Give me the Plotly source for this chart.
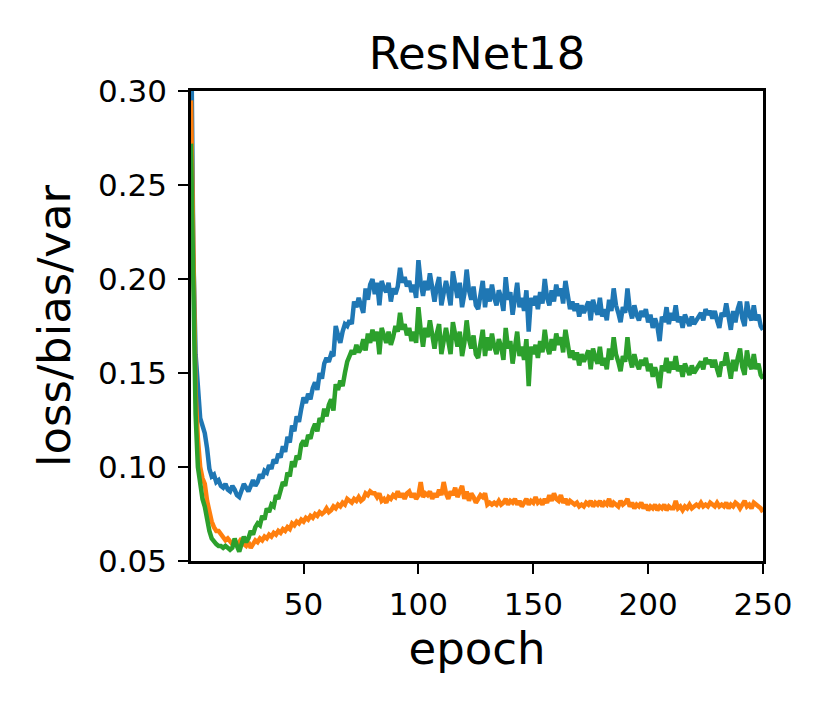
import plotly.graph_objs as go

# epochs 1..250
epochs = list(range(1, 251))

# total loss per epoch
loss = [
    0.345, 0.215, 0.160, 0.138, 0.126, 0.122, 0.118, 0.110, 0.099, 0.095,
    0.096, 0.092, 0.093, 0.090, 0.089, 0.091, 0.088, 0.087, 0.090, 0.088,
    0.085, 0.084, 0.088, 0.091, 0.089, 0.087, 0.090, 0.093, 0.090, 0.092,
    0.096, 0.094, 0.098, 0.097, 0.101, 0.099, 0.104, 0.102, 0.107, 0.105,
    0.111, 0.108, 0.116, 0.113, 0.122, 0.119, 0.127, 0.124, 0.131, 0.137,
    0.134, 0.139, 0.136, 0.142, 0.145, 0.141, 0.150, 0.147, 0.155, 0.158,
    0.156, 0.160, 0.159, 0.175, 0.170, 0.166, 0.172, 0.176, 0.175, 0.178,
    0.176, 0.188, 0.185, 0.190, 0.186, 0.182, 0.195, 0.189, 0.197, 0.200,
    0.192, 0.198, 0.186, 0.199, 0.195, 0.193, 0.198, 0.188, 0.195, 0.192,
    0.196, 0.206, 0.198, 0.201, 0.196, 0.199, 0.193, 0.197, 0.190, 0.210,
    0.198, 0.191, 0.199, 0.194, 0.203, 0.197, 0.188, 0.196, 0.201, 0.186,
    0.193, 0.199, 0.193, 0.186, 0.204, 0.196, 0.190, 0.198, 0.185, 0.192,
    0.205, 0.194, 0.189, 0.196, 0.186, 0.184, 0.193, 0.199, 0.185, 0.195,
    0.188, 0.197, 0.190, 0.186, 0.194, 0.190, 0.183, 0.201, 0.189, 0.193,
    0.181, 0.192, 0.198, 0.185, 0.190, 0.183, 0.194, 0.172, 0.190, 0.186,
    0.191, 0.184, 0.193, 0.187, 0.200, 0.190, 0.186, 0.194, 0.188, 0.197,
    0.191, 0.195, 0.187, 0.199, 0.191, 0.184, 0.188, 0.183, 0.187, 0.180,
    0.186, 0.182, 0.185, 0.188, 0.178, 0.189, 0.184, 0.181, 0.190, 0.180,
    0.184, 0.178, 0.189, 0.183, 0.195, 0.186, 0.182, 0.177, 0.185, 0.182,
    0.195, 0.184, 0.179, 0.186, 0.181, 0.178, 0.183, 0.180, 0.184, 0.177,
    0.181, 0.174, 0.179, 0.175, 0.167, 0.180, 0.177, 0.185, 0.176, 0.182,
    0.178, 0.186, 0.177, 0.180, 0.174, 0.181, 0.178, 0.175, 0.180, 0.176,
    0.178, 0.180, 0.182, 0.178, 0.184, 0.181, 0.183, 0.179, 0.183, 0.178,
    0.174, 0.182, 0.180, 0.187, 0.181, 0.173, 0.183, 0.177, 0.184, 0.188,
    0.179, 0.175, 0.188, 0.181, 0.178, 0.186, 0.178, 0.181, 0.175, 0.173,
]

# bias term
bias = [
    0.295, 0.200, 0.140, 0.115, 0.100, 0.094, 0.091, 0.082, 0.076, 0.071,
    0.068, 0.066, 0.066, 0.064, 0.063, 0.061, 0.062, 0.060, 0.059, 0.061,
    0.058, 0.060, 0.062, 0.059, 0.058, 0.060, 0.057, 0.059, 0.061, 0.060,
    0.062, 0.061, 0.063, 0.062, 0.064, 0.063, 0.065, 0.064, 0.066, 0.065,
    0.067, 0.066, 0.068, 0.067, 0.070, 0.069, 0.071, 0.070, 0.072, 0.071,
    0.073, 0.072, 0.074, 0.073, 0.075, 0.074, 0.076, 0.075, 0.076, 0.078,
    0.076, 0.077, 0.079, 0.078, 0.080, 0.079, 0.081, 0.080, 0.083, 0.082,
    0.081, 0.083, 0.082, 0.084, 0.082, 0.083, 0.086, 0.085, 0.087, 0.086,
    0.086, 0.084, 0.086, 0.082, 0.083, 0.081, 0.084, 0.083, 0.085, 0.084,
    0.087, 0.084, 0.086, 0.083, 0.086, 0.087, 0.084, 0.086, 0.083, 0.085,
    0.092, 0.084, 0.086, 0.085, 0.087, 0.083, 0.086, 0.084, 0.088, 0.085,
    0.092, 0.086, 0.083, 0.087, 0.085, 0.089, 0.084, 0.087, 0.090, 0.083,
    0.087, 0.082, 0.086, 0.084, 0.081, 0.083, 0.085, 0.084, 0.086, 0.080,
    0.081, 0.080, 0.081, 0.080, 0.082, 0.080, 0.081, 0.083, 0.080, 0.082,
    0.081, 0.083, 0.080, 0.082, 0.079, 0.081, 0.083, 0.080, 0.082, 0.081,
    0.084, 0.081, 0.082, 0.080, 0.083, 0.081, 0.085, 0.082, 0.086, 0.083,
    0.082, 0.085, 0.081, 0.083, 0.080, 0.082, 0.081, 0.080, 0.081, 0.079,
    0.080, 0.079, 0.081, 0.080, 0.082, 0.079, 0.081, 0.080, 0.082, 0.079,
    0.081, 0.080, 0.083, 0.079, 0.081, 0.080, 0.079, 0.082, 0.080, 0.081,
    0.083, 0.079, 0.081, 0.078, 0.080, 0.079, 0.081, 0.078, 0.080, 0.077,
    0.079, 0.078, 0.080, 0.077, 0.079, 0.078, 0.080, 0.077, 0.079, 0.078,
    0.078, 0.082, 0.078, 0.079, 0.077, 0.079, 0.078, 0.080, 0.078, 0.079,
    0.080, 0.079, 0.081, 0.079, 0.080, 0.079, 0.081, 0.080, 0.079, 0.081,
    0.079, 0.080, 0.079, 0.081, 0.078, 0.080, 0.079, 0.081, 0.080, 0.078,
    0.080, 0.082, 0.079, 0.080, 0.078, 0.081, 0.080, 0.079, 0.078, 0.076,
]

# variance term
var = [
    0.272, 0.185, 0.128, 0.100, 0.090, 0.083, 0.079, 0.072, 0.066, 0.062,
    0.060, 0.059, 0.058, 0.058, 0.057, 0.058, 0.057, 0.056, 0.057, 0.062,
    0.058, 0.055, 0.059, 0.063, 0.060, 0.062, 0.066, 0.064, 0.068, 0.070,
    0.069, 0.074, 0.072, 0.078, 0.076, 0.080, 0.079, 0.085, 0.083, 0.088,
    0.092, 0.090, 0.097, 0.095, 0.103, 0.100, 0.106, 0.104, 0.112, 0.114,
    0.111, 0.117, 0.115, 0.120, 0.123, 0.119, 0.126, 0.124, 0.131, 0.127,
    0.133, 0.136, 0.130, 0.144, 0.141, 0.146, 0.143, 0.150, 0.156, 0.159,
    0.162, 0.160, 0.165, 0.161, 0.163, 0.168, 0.162, 0.171, 0.166, 0.173,
    0.167, 0.172, 0.160, 0.174, 0.170, 0.166, 0.172, 0.165, 0.169, 0.175,
    0.172, 0.182, 0.173, 0.176, 0.170, 0.174, 0.167, 0.172, 0.166, 0.185,
    0.173, 0.164, 0.174, 0.169, 0.178, 0.172, 0.163, 0.171, 0.176, 0.160,
    0.168, 0.174, 0.167, 0.160, 0.177, 0.170, 0.164, 0.172, 0.159, 0.166,
    0.178, 0.168, 0.163, 0.170, 0.160, 0.158, 0.167, 0.173, 0.159, 0.169,
    0.162, 0.171, 0.164, 0.160, 0.168, 0.164, 0.157, 0.174, 0.163, 0.167,
    0.155, 0.166, 0.172, 0.159, 0.164, 0.157, 0.168, 0.143, 0.164, 0.160,
    0.165, 0.158, 0.167, 0.161, 0.173, 0.164, 0.160, 0.168, 0.162, 0.171,
    0.165, 0.169, 0.161, 0.173, 0.165, 0.158, 0.162, 0.157, 0.161, 0.154,
    0.160, 0.156, 0.159, 0.162, 0.152, 0.163, 0.158, 0.155, 0.164, 0.154,
    0.158, 0.152, 0.163, 0.157, 0.169, 0.160, 0.156, 0.151, 0.159, 0.156,
    0.169, 0.158, 0.153, 0.160, 0.155, 0.152, 0.157, 0.154, 0.158, 0.151,
    0.155, 0.148, 0.153, 0.149, 0.142, 0.154, 0.151, 0.158, 0.150, 0.156,
    0.152, 0.159, 0.151, 0.154, 0.148, 0.155, 0.152, 0.149, 0.154, 0.150,
    0.152, 0.154, 0.156, 0.152, 0.158, 0.155, 0.157, 0.153, 0.157, 0.152,
    0.148, 0.156, 0.154, 0.161, 0.155, 0.147, 0.157, 0.151, 0.158, 0.163,
    0.153, 0.149, 0.162, 0.155, 0.152, 0.160, 0.152, 0.155, 0.149, 0.147,
]

font = 'DejaVu Sans'

trace1 = go.Scatter(x=epochs, y=loss, mode='lines', name='loss', line=dict(color='#1f77b4', width=4.5))
trace2 = go.Scatter(x=epochs, y=bias, mode='lines', name='bias', line=dict(color='#ff7f0e', width=4.5))
trace3 = go.Scatter(x=epochs, y=var, mode='lines', name='var', line=dict(color='#2ca02c', width=4.5))
data = [trace1, trace2, trace3]

axis_style = dict(showgrid=False, zeroline=False, showline=True, linecolor='black', linewidth=2.5,
                  mirror=True, ticks='outside', ticklen=10, tickwidth=2, tickcolor='black',
                  tickfont=dict(family=font, size=31, color='black'))

# the page body adds ~8px offset, so margins are shifted to compensate
layout = go.Layout(
    width=830, height=712,
    margin=dict(l=183, r=75, t=83, b=159),
    paper_bgcolor='white', plot_bgcolor='white',
    showlegend=False,
    title=dict(text='ResNet18', x=0.5, xanchor='center', xref='paper',
               y=0.915, yref='container', yanchor='bottom',
               font=dict(family=font, size=45, color='black')),
    xaxis=dict(range=[1, 250], tickvals=[50, 100, 150, 200, 250],
               title=dict(text='epoch', font=dict(family=font, size=45, color='black'), standoff=12),
               ticklabelstandoff=4, **axis_style),
    yaxis=dict(range=[0.05, 0.30], tickvals=[0.05, 0.10, 0.15, 0.20, 0.25, 0.30],
               ticktext=['0.05', '0.10', '0.15', '0.20', '0.25', '0.30'],
               title=dict(text='loss/bias/var', font=dict(family=font, size=45, color='black'), standoff=14),
               ticklabelstandoff=5, **axis_style),
)

fig = go.Figure(data=data, layout=layout)
fig.write_html('out.html')
